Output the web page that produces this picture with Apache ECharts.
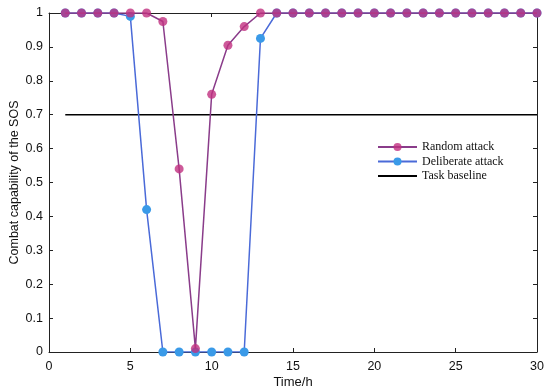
<!DOCTYPE html>
<html><head><meta charset="utf-8">
<script src="https://cdn.jsdelivr.net/npm/echarts@6/dist/echarts.min.js"></script>
<style>html,body{margin:0;padding:0;background:#fff}#c{width:550px;height:391px}</style>
</head><body><div id="c"></div>
<script>
const hours = [1,2,3,4,5,6,7,8,9,10,11,12,13,14,15,16,17,18,19,20,21,22,23,24,25,26,27,28,29,30];
const randomAttack = [1,1,1,1,1,1,0.975,0.54,0.01,0.76,0.905,0.96,1,1,1,1,1,1,1,1,1,1,1,1,1,1,1,1,1,1];
const deliberateAttack = [1,1,1,1,0.99,0.42,0,0,0,0,0,0,0.925,1,1,1,1,1,1,1,1,1,1,1,1,1,1,1,1,1];
const taskBaseline = [[1,0.7],[30,0.7]];
const seriesNames = ['Random attack','Deliberate attack','Task baseline'];

const chart = echarts.init(document.getElementById('c'), null, {renderer:'canvas'});
const axisFont = {fontFamily:'Liberation Sans, Arial', fontSize:12.5, color:'#111'};
const frameAxis = {
  axisLine:{onZero:false, lineStyle:{color:'#222', width:1}},
  axisTick:{inside:true, length:4, lineStyle:{color:'#222'}},
  splitLine:{show:false}
};
chart.setOption({
  animation:false,
  grid:{left:49,right:13,top:13,bottom:39, outerBoundsMode:'none', containLabel:false},
  legend:{
    left:372, top:136, orient:'vertical', itemGap:2.5, itemWidth:39, itemHeight:10,
    textStyle:{fontFamily:'Liberation Serif, Times New Roman', fontSize:12, color:'#111'},
    data:[seriesNames[0], seriesNames[1], {name:seriesNames[2], itemStyle:{opacity:0}}]
  },
  xAxis:[Object.assign({
    type:'value', min:0, max:30, interval:5, position:'bottom',
    name:'Time/h', nameLocation:'middle', nameGap:24, nameMoveOverlap:false,
    nameTextStyle:{fontFamily:'Liberation Sans, Arial', fontSize:13, color:'#111'},
    axisLabel:Object.assign({margin:8}, axisFont)
  }, frameAxis),
  Object.assign({
    type:'value', min:0, max:30, interval:5, position:'top', axisLabel:{show:false}
  }, frameAxis)],
  yAxis:[Object.assign({
    type:'value', min:0, max:1, interval:0.1, position:'left',
    name:'Combat capability of the SOS', nameLocation:'middle', nameGap:28, nameMoveOverlap:false,
    nameTextStyle:{fontFamily:'Liberation Sans, Arial', fontSize:12.5, color:'#111'},
    axisLabel:Object.assign({margin:6, formatter:v=>String(+v.toFixed(1))}, axisFont)
  }, frameAxis),
  Object.assign({
    type:'value', min:0, max:1, interval:0.1, position:'right', axisLabel:{show:false}
  }, frameAxis)],
  series:[
    {name:'Deliberate attack', type:'line', data:hours.map((h,i)=>[h,deliberateAttack[i]]),
     symbol:'circle', symbolSize:9, z:2,
     lineStyle:{color:'#4a6ad8', width:1.5},
     itemStyle:{color:'#3a9ae8'}},
    {name:'Random attack', type:'line', data:hours.map((h,i)=>[h,randomAttack[i]]),
     symbol:'circle', symbolSize:9, z:3,
     lineStyle:{color:'#8a3c8a', width:1.5},
     itemStyle:{color:'#c03080', opacity:0.8}},
    {name:'Task baseline', type:'line', data:taskBaseline, symbol:'none', z:1,
     lineStyle:{color:'#000', width:1.5}, itemStyle:{color:'#000'}}
  ]
});
</script></body></html>
